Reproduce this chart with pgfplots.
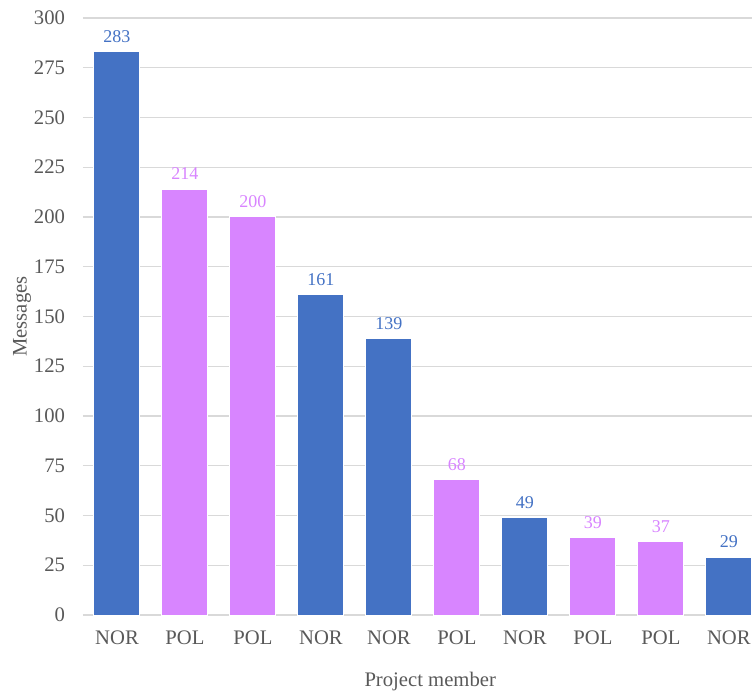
\documentclass[border=0pt]{standalone}
\usepackage{pgfplots}
\pgfplotsset{compat=1.18}
\usepackage{fontspec}
\setmainfont{Liberation Serif}
\definecolor{norblue}{HTML}{4472C4}
\definecolor{polpurple}{HTML}{D885FF}
\definecolor{txtgray}{HTML}{595959}
\definecolor{gridgray}{HTML}{D9D9D9}
\begin{document}
\begin{tikzpicture}
\begin{axis}[
  scale only axis,
  width=501.75pt, height=447.75pt,
  xmin=-0.5, xmax=9.34,
  ymin=0, ymax=300,
  ytick={0,25,...,300},
  xtick={0,1,2,3,4,5,6,7,8,9},
  xticklabels={NOR,POL,POL,NOR,NOR,POL,NOR,POL,POL,NOR},
  axis line style={draw=none},
  major tick length=0pt,
  ymajorgrids,
  grid style={gridgray, line width=0.9pt},
  tick label style={font=\fontsize{15.5}{18}\selectfont, text=txtgray},
  /pgf/number format/assume math mode=true,
  yticklabel style={xshift=-10pt},
  xticklabel style={yshift=-8pt},
  xlabel={Project member},
  ylabel={Messages},
  every axis x label/.style={at={(axis description cs:0.519,0)}, yshift=-50.25pt, anchor=center, font=\fontsize{15.5}{18}\selectfont, text=txtgray},
  every axis y label/.style={at={(axis description cs:0,0.5)}, xshift=-45.75pt, rotate=90, anchor=center, font=\fontsize{15.5}{18}\selectfont, text=txtgray},
  ybar, bar width=34.5pt, bar shift=0pt,
  nodes near coords,
  every node near coord/.append style={font=\fontsize{13.5}{16}\selectfont, inner sep=0pt, anchor=south, yshift=6.5pt},
]
\addplot[fill=norblue, draw=white, line width=0.75pt, every node near coord/.append style={text=norblue}]
  coordinates {(0,283) (3,161) (4,139) (6,49) (9,29)};
\addplot[fill=polpurple, draw=white, line width=0.75pt, every node near coord/.append style={text=polpurple}]
  coordinates {(1,214) (2,200) (5,68) (7,39) (8,37)};
\coordinate (O) at (rel axis cs:0,0);
\end{axis}
\pgfresetboundingbox
\useasboundingbox (O) ++(-62.25pt,-60.75pt) rectangle ++(564pt,522pt);
\end{tikzpicture}
\end{document}
